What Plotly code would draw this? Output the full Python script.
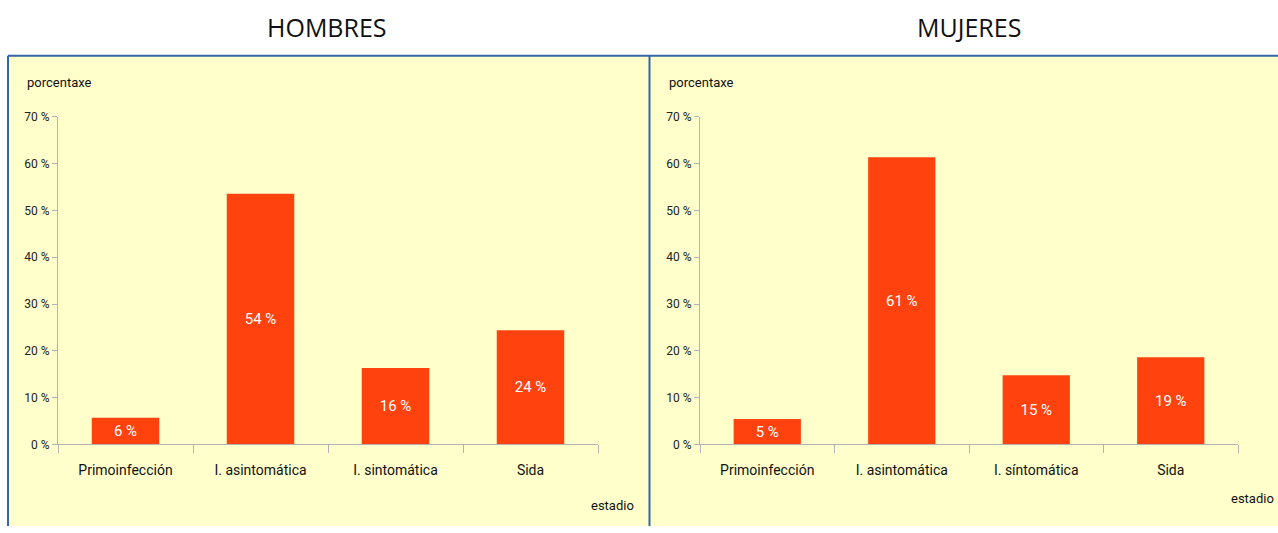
import plotly.graph_objects as go

W, H = 1278, 533

estadios_h = ["Primoinfección", "I. asintomática", "I. sintomática", "Sida"]
estadios_m = ["Primoinfección", "I. asintomática", "I. síntomática", "Sida"]
hombres = [5.7, 53.6, 16.3, 24.4]
mujeres = [5.4, 61.4, 14.8, 18.6]
y_ticks = [0, 10, 20, 30, 40, 50, 60, 70]

BAR = "#ff420e"
PANEL = "#ffffcc"
BORDER = "#3465a4"
AXIS = "#b3b3b3"
NARROW = "Roboto, Liberation Sans, sans-serif"


def px_x(x):
    return x / W


def px_y(y):
    # the captured page comes out slightly squashed and shifted down,
    # so aim each vertical position a little higher to land where wanted
    y = (y - 7.2) / 0.9725
    return (H - y) / H


def label(v):
    return "%d %%" % round(v)


fig = go.Figure()

fig.add_trace(go.Bar(x=estadios_h, y=hombres, text=[label(v) for v in hombres],
                     marker_color=BAR, xaxis="x", yaxis="y"))
fig.add_trace(go.Bar(x=estadios_m, y=mujeres, text=[label(v) for v in mujeres],
                     marker_color=BAR, xaxis="x2", yaxis="y2"))
fig.update_traces(textposition="inside", insidetextanchor="middle",
                  textfont=dict(color="white", size=15, family=NARROW),
                  marker_line_width=0, showlegend=False, hoverinfo="x+y")

yax = dict(range=[0, 70], tickmode="array", tickvals=y_ticks,
           ticktext=["%d %%" % v for v in y_ticks], showgrid=False, zeroline=False,
           showline=True, linecolor=AXIS, linewidth=1, ticks="outside", ticklen=5,
           tickcolor=AXIS, tickfont=dict(family=NARROW, size=12, color="#222"))
xax = dict(showgrid=False, showline=True, linecolor=AXIS, linewidth=1, ticks="outside",
           tickson="boundaries", ticklen=8, tickcolor=AXIS, ticklabelstandoff=13,
           tickfont=dict(family=NARROW, size=14, color="#111"))

fig.update_layout(
    autosize=True, margin=dict(l=0, r=0, t=0, b=0),
    paper_bgcolor="white", plot_bgcolor="rgba(0,0,0,0)", bargap=0.5,
    xaxis=dict(xax, domain=[px_x(58), px_x(598)], anchor="y"),
    yaxis=dict(yax, domain=[px_y(444), px_y(117)], anchor="x"),
    xaxis2=dict(xax, domain=[px_x(700), px_x(1238)], anchor="y2"),
    yaxis2=dict(yax, domain=[px_y(444), px_y(117)], anchor="x2"),
)

# yellow panels, kept inside the paper
for x0, x1 in ((8, 649), (649, W)):
    fig.add_shape(type="rect", xref="paper", yref="paper", x0=px_x(x0), x1=px_x(x1),
                  y0=0, y1=px_y(56), fillcolor=PANEL, line_width=0, layer="below")
# blue frame lines
border_lines = [(8, 56, W, 56), (8, 56, 8, 540), (649.5, 56, 649.5, 540)]
for xa, ya, xb, yb in border_lines:
    fig.add_shape(type="line", xref="paper", yref="paper", x0=px_x(xa), x1=px_x(xb),
                  y0=max(px_y(ya), 0), y1=max(px_y(yb), 0), line=dict(color=BORDER, width=2))

titles = [("HOMBRES", 327), ("MUJERES", 969)]
for t, cx in titles:
    fig.add_annotation(text=t, xref="paper", yref="paper", x=px_x(cx), y=px_y(27),
                       showarrow=False, xanchor="center", yanchor="middle",
                       font=dict(family="Open Sans, sans-serif", size=25, color="#111"))

for x0 in (25, 667):
    fig.add_annotation(text="porcentaxe", xref="paper", yref="paper", x=px_x(x0), y=px_y(83),
                       showarrow=False, xanchor="left", yanchor="middle",
                       font=dict(family=NARROW, size=13, color="#111"))

for cx, cy in ((612, 505), (1252, 498)):
    fig.add_annotation(text="estadio", xref="paper", yref="paper", x=px_x(cx), y=px_y(cy),
                       showarrow=False, xanchor="center", yanchor="middle",
                       font=dict(family=NARROW, size=13, color="#111"))

# page background continues the panels below the figure
page_bg = ("linear-gradient(to right, white 0px, white 7px, %s 7px, %s 9px, %s 9px, "
           "%s 648.5px, %s 648.5px, %s 650.5px, %s 650.5px)"
           % (BORDER, BORDER, PANEL, PANEL, BORDER, BORDER, PANEL))

# let the figure fill the whole window: no page margin, full-height html/body
page_js = ("document.documentElement.style.height='100%';"
           "document.documentElement.style.overflow='hidden';"
           "document.documentElement.style.background='" + page_bg + "';"
           "document.body.style.height='100%';"
           "document.body.style.margin='0';"
           "document.body.style.overflow='hidden';"
           "var gd=document.getElementById('{plot_id}');"
           "gd.parentElement.style.height='100%';"
           "Plotly.Plots.resize(gd);")
fig.write_html("out.html", config={"displayModeBar": False, "responsive": True},
               post_script=page_js)
